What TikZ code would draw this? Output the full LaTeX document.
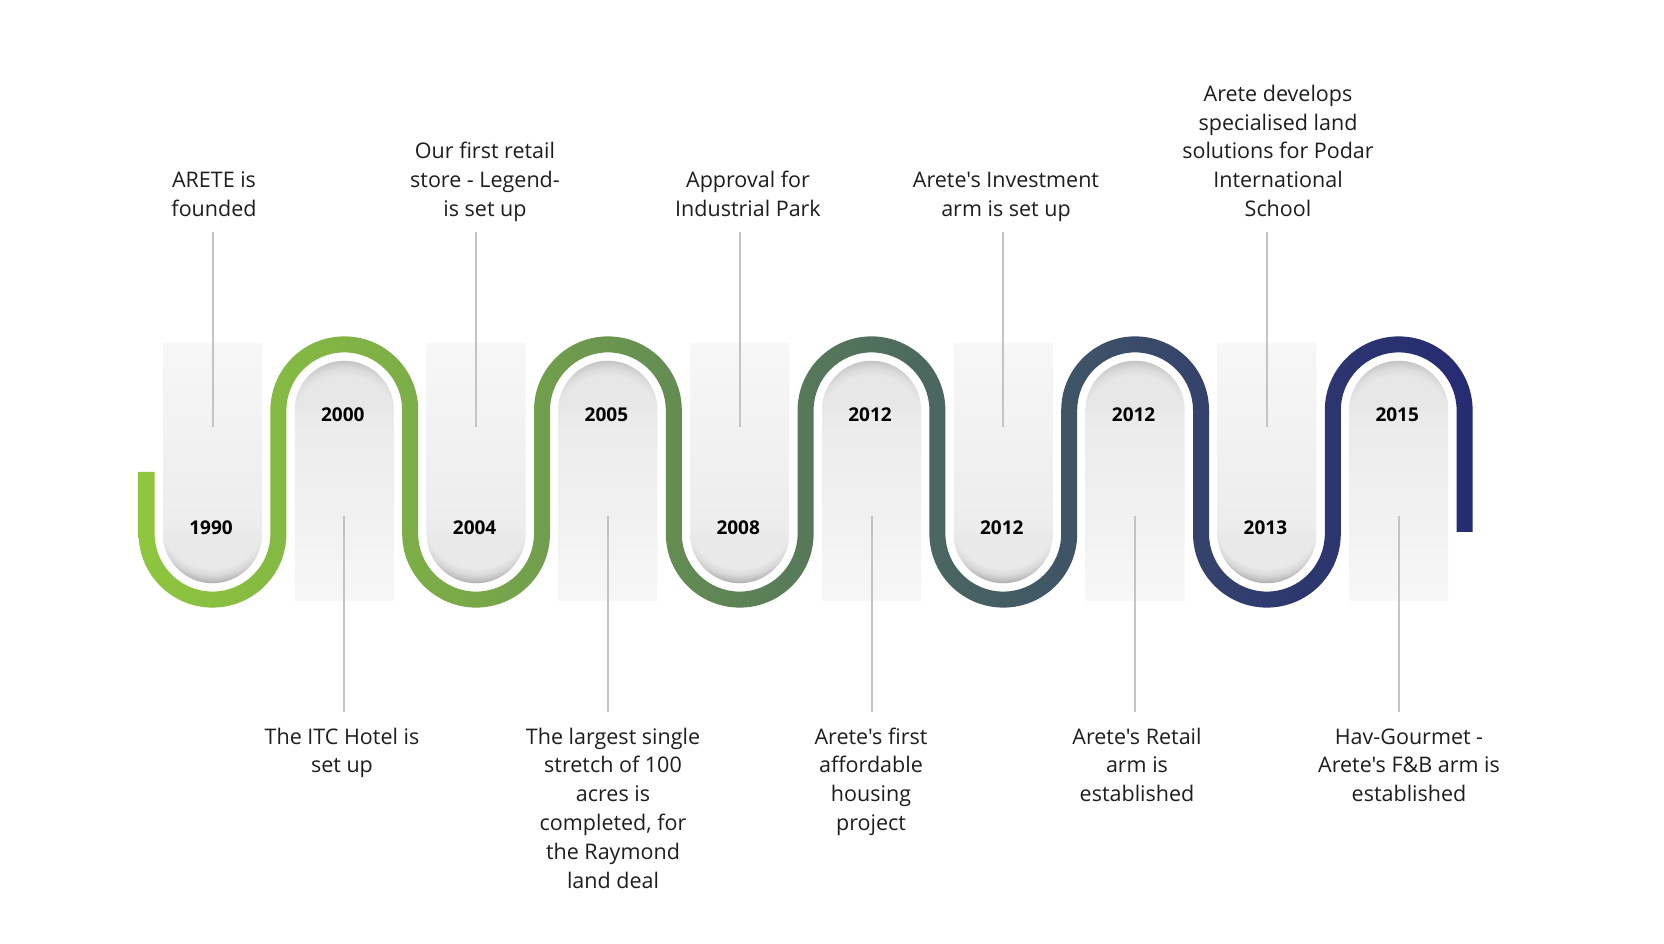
\documentclass[tikz,border=0pt]{standalone}
\usepackage{fontspec}
\newfontfamily\lab{Open Sans}[Ligatures=TeXOff]
\definecolor{gA}{RGB}{142,198,62}
\definecolor{gB}{RGB}{120,168,73}
\definecolor{gC}{RGB}{93,131,86}
\definecolor{gD}{RGB}{68,93,100}
\definecolor{gE}{RGB}{47,58,110}
\definecolor{gF}{RGB}{38,44,114}
\definecolor{colTop}{HTML}{F7F7F7}
\definecolor{colBotB}{HTML}{E9E9E9}
\definecolor{colBotT}{HTML}{E7E7E7}
\definecolor{rb0}{HTML}{E9E9E9}
\definecolor{rb1}{HTML}{D8D8D8}
\definecolor{rb2}{HTML}{BBBBBB}
\definecolor{rb3}{HTML}{A6A6A6}
\definecolor{rt0}{HTML}{E7E7E7}
\definecolor{rt1}{HTML}{DDDDDD}
\definecolor{rt2}{HTML}{CCCCCC}
\definecolor{rt3}{HTML}{C0C0C0}
\definecolor{lineGray}{HTML}{C4C4C4}
\definecolor{txt}{HTML}{1E1E1E}
\pgfdeclarehorizontalshading{serp}{100bp}{color(0bp)=(gA); color(25bp)=(gA); color(37.6bp)=(gB); color(47.5bp)=(gC); color(57.4bp)=(gD); color(67.3bp)=(gE); color(75bp)=(gF); color(100bp)=(gF)}
\pgfdeclareradialshading{rimB}{\pgfpointorigin}{color(0bp)=(rb0); color(19.5bp)=(rb0); color(22bp)=(rb1); color(24bp)=(rb2); color(25bp)=(rb3); color(50bp)=(rb3)}
\pgfdeclareradialshading{rimT}{\pgfpointorigin}{color(0bp)=(rt0); color(19.5bp)=(rt0); color(22bp)=(rt1); color(24bp)=(rt2); color(25bp)=(rt3); color(50bp)=(rt3)}
\begin{document}
\begin{tikzpicture}[x=1pt,y=1pt,
  yearlbl/.style={inner sep=0pt, text=black, font=\lab\bfseries\fontsize{19}{22}\selectfont},
  desc/.style={inner sep=0pt, align=center, text=txt, font=\lab\fontsize{21.5}{28.8}\selectfont},
  vline/.style={draw=lineGray, line width=2pt}]
\useasboundingbox (0,0) rectangle (1664,944);
\fill[white] (0,0) rectangle (1664,944);
% columns with bottom pills
\foreach \i in {0,2,4,6,8}{
  \pgfmathsetmacro\cx{212.5+131.8*\i}
  \shade[top color=colTop, bottom color=colBotB] (\cx-49.5,601) -- (\cx-49.5,410.3) arc[start angle=180,end angle=360,radius=49.5pt] -- (\cx+49.5,601) -- cycle;
  \begin{scope}
    \clip (\cx-49.5,410.3) arc[start angle=180,end angle=360,radius=49.5pt] -- cycle;
    \shade[shading=rimB] (\cx,430.3) circle[radius=70pt];
  \end{scope}
}
% columns with top pills
\foreach \i in {1,3,5,7,9}{
  \pgfmathsetmacro\cx{212.5+131.8*\i}
  \shade[top color=colBotT, bottom color=colTop] (\cx-49.5,343) -- (\cx-49.5,533.7) arc[start angle=180,end angle=0,radius=49.5pt] -- (\cx+49.5,343) -- cycle;
  \begin{scope}
    \clip (\cx-49.5,533.7) arc[start angle=180,end angle=0,radius=49.5pt] -- cycle;
    \shade[shading=rimT] (\cx,513.7) circle[radius=70pt];
  \end{scope}
}
% serpentine band
\shade[shading=serp] (138.6,472) -- (138.6,410.3)
  arc[start angle=180,end angle=360,radius=73.9pt] -- ++(0,123.4) arc[start angle=180,end angle=0,radius=57.9pt] -- ++(0,-123.4)
  arc[start angle=180,end angle=360,radius=73.9pt] -- ++(0,123.4) arc[start angle=180,end angle=0,radius=57.9pt] -- ++(0,-123.4)
  arc[start angle=180,end angle=360,radius=73.9pt] -- ++(0,123.4) arc[start angle=180,end angle=0,radius=57.9pt] -- ++(0,-123.4)
  arc[start angle=180,end angle=360,radius=73.9pt] -- ++(0,123.4) arc[start angle=180,end angle=0,radius=57.9pt] -- ++(0,-123.4)
  arc[start angle=180,end angle=360,radius=73.9pt] -- ++(0,123.4) arc[start angle=180,end angle=0,radius=57.9pt] -- ++(0,-121.7)
  -- ++(16,0) -- ++(0,121.7)
  arc[start angle=0,end angle=180,radius=73.9pt] -- ++(0,-123.4) arc[start angle=360,end angle=180,radius=57.9pt] -- ++(0,123.4)
  arc[start angle=0,end angle=180,radius=73.9pt] -- ++(0,-123.4) arc[start angle=360,end angle=180,radius=57.9pt] -- ++(0,123.4)
  arc[start angle=0,end angle=180,radius=73.9pt] -- ++(0,-123.4) arc[start angle=360,end angle=180,radius=57.9pt] -- ++(0,123.4)
  arc[start angle=0,end angle=180,radius=73.9pt] -- ++(0,-123.4) arc[start angle=360,end angle=180,radius=57.9pt] -- ++(0,123.4)
  arc[start angle=0,end angle=180,radius=73.9pt] -- ++(0,-123.4) arc[start angle=360,end angle=180,radius=57.9pt]
  -- (154.6,472) -- cycle;
% connector lines
\foreach \i in {0,2,4,6,8}{
  \pgfmathsetmacro\cx{212.5+131.8*\i}
  \coordinate (la\i) at (\cx,712);
  \coordinate (lb\i) at (\cx,517);
  \draw[vline] (la\i) -- (lb\i);
}
\foreach \i in {1,3,5,7,9}{
  \pgfmathsetmacro\cx{212.5+131.8*\i}
  \coordinate (la\i) at (\cx,428);
  \coordinate (lb\i) at (\cx,232);
  \draw[vline] (la\i) -- (lb\i);
}
% years
\foreach \i/\yr in {0/1990,2/2004,4/2008,6/2012,8/2013}{
  \pgfmathsetmacro\cx{212.5+131.8*\i}
  \node[yearlbl] (y\i) at (\cx-1.5,416) {\yr};
}
\foreach \i/\yr in {1/2000,3/2005,5/2012,7/2012,9/2015}{
  \pgfmathsetmacro\cx{212.5+131.8*\i}
  \node[yearlbl] (y\i) at (\cx-1.5,529) {\yr};
}
% descriptions above
\node[desc, anchor=south] (t0) at (214,718.6) {ARETE is\\founded\strut};
\node[desc, anchor=south] (t2) at (485,718.6) {Our first retail\\store - Legend-\\is set up\strut};
\node[desc, anchor=south] (t4) at (748,718.6) {Approval for\\Industrial Park\strut};
\node[desc, anchor=south] (t6) at (1006,718.6) {Arete's Investment\\arm is set up\strut};
\node[desc, anchor=south] (t8) at (1278,718.6) {Arete develops\\specialised land\\solutions for Podar\\International\\School\strut};
% descriptions below
\node[desc, anchor=north] (t1) at (342,220.3) {\strut The ITC Hotel is\\set up};
\node[desc, anchor=north] (t3) at (613,220.3) {\strut The largest single\\stretch of 100\\acres is\\completed, for\\the Raymond\\land deal};
\node[desc, anchor=north] (t5) at (871,220.3) {\strut Arete's first\\affordable\\housing\\project};
\node[desc, anchor=north] (t7) at (1137,220.3) {\strut Arete's Retail\\arm is\\established};
\node[desc, anchor=north] (t9) at (1409,220.3) {\strut Hav-Gourmet -\\Arete's F\&B arm is\\established};
\end{tikzpicture}
\end{document}
